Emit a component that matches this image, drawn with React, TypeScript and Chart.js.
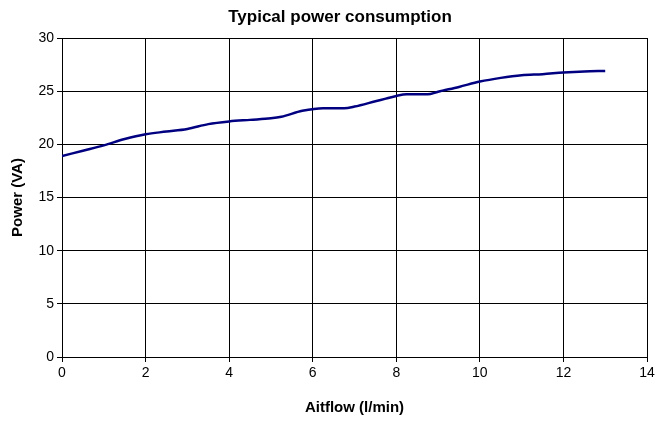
import React, { useEffect, useRef } from "react";
import { Chart, registerables } from "chart.js";

Chart.register(...registerables);

const airflow = [0, 0.5, 1, 1.5, 2, 2.5, 3, 3.5, 4, 4.5, 5, 5.25, 5.75, 6.25, 6.75, 7, 7.5, 7.75, 8, 8.25, 8.75, 9, 9.5, 10, 10.5, 11, 11.5, 12, 12.5, 13];
const power = [18.9, 19.4, 19.9, 20.5, 20.95, 21.2, 21.45, 21.9, 22.15, 22.3, 22.45, 22.6, 23.15, 23.4, 23.4, 23.55, 24.05, 24.3, 24.55, 24.7, 24.7, 24.95, 25.4, 25.9, 26.25, 26.5, 26.6, 26.75, 26.85, 26.9];

const chartTitle = "Typical power consumption";
const xTitle = "Aitflow (l/min)";
const yTitle = "Power (VA)";
const xRange = [0, 14, 2];
const yRange = [0, 30, 5];

const FONT = "'Liberation Sans', Arial, sans-serif";

const titlePlugin = {
  id: "centeredTitle",
  afterDraw(chart: any) {
    const ctx = chart.ctx;
    ctx.save();
    ctx.font = `bold 17px ${FONT}`;
    ctx.fillStyle = "#000";
    ctx.textAlign = "center";
    ctx.textBaseline = "middle";
    ctx.fillText(chartTitle, 340, 17);
    ctx.restore();
  },
};

export default function App() {
  const ref = useRef<HTMLCanvasElement>(null);
  useEffect(() => {
    const chart = new Chart(ref.current!, {
      type: "line",
      data: {
        datasets: [
          {
            data: airflow.map((x, i) => ({ x, y: power[i] })),
            borderColor: "#000080",
            borderWidth: 2.5,
            pointRadius: 0,
            fill: false,
            cubicInterpolationMode: "monotone",
          },
        ],
      },
      plugins: [titlePlugin],
      options: {
        animation: false,
        responsive: false,
        devicePixelRatio: 1,
        layout: { padding: { top: 38, left: 0, right: 22, bottom: 0 } },
        plugins: {
          legend: { display: false },
          tooltip: { enabled: false },
          title: { display: false },
        },
        scales: {
          x: {
            type: "linear",
            min: xRange[0],
            max: xRange[1],
            ticks: { stepSize: xRange[2], color: "#000", font: { family: FONT, size: 14 }, padding: 3, maxRotation: 0 },
            grid: { color: "#000", lineWidth: 1, tickLength: 5 },
            border: { color: "#000", width: 1 },
            title: { display: true, text: xTitle, color: "#000", font: { family: FONT, size: 15, weight: "bold" }, padding: { top: 4, bottom: 4 } },
            afterFit: (s: any) => { s.height = 64; },
          },
          y: {
            min: yRange[0],
            max: yRange[1],
            ticks: { stepSize: yRange[2], color: "#000", font: { family: FONT, size: 14 }, padding: 3 },
            grid: { color: "#000", lineWidth: 1, tickLength: 5 },
            border: { color: "#000", width: 1 },
            title: { display: true, text: yTitle, color: "#000", font: { family: FONT, size: 15, weight: "bold" }, padding: { top: 9, bottom: 4 } },
            afterFit: (s: any) => { s.width = 62; },
          },
        },
      },
    });
    return () => chart.destroy();
  }, []);
  return (
    <div style={{ position: "fixed", left: 0, top: 0, width: 669, height: 421, background: "#fff" }}>
      <canvas ref={ref} width={669} height={421} style={{ display: "block" }} />
    </div>
  );
}
